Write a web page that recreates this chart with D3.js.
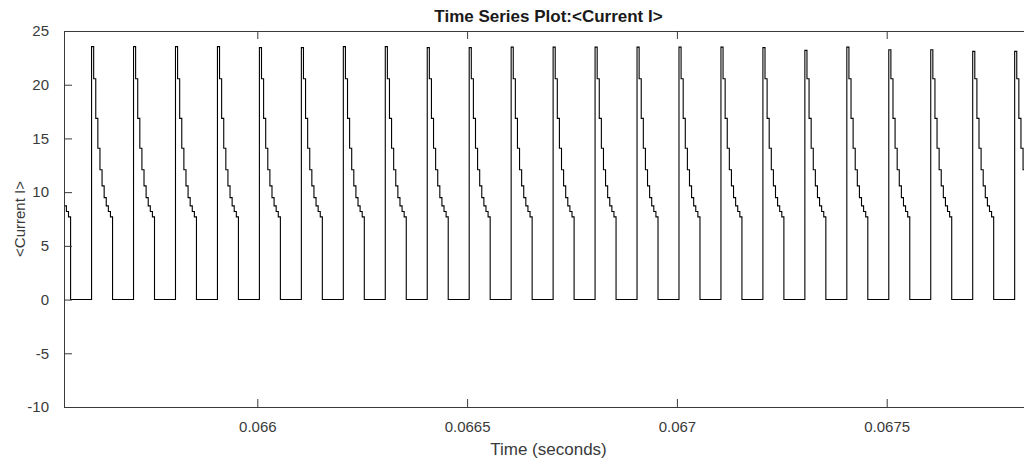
<!DOCTYPE html>
<html>
<head>
<meta charset="utf-8">
<script src="https://cdn.jsdelivr.net/npm/d3@7"></script>
<style>
  html, body { margin: 0; padding: 0; background: #fff; overflow: hidden; }
  svg { display: block; font-family: "Liberation Sans", Arial, Helvetica, sans-serif; }
</style>
</head>
<body>
<svg id="chart" width="1024" height="461"></svg>
<script>
// Pulse train: rise instants (s), the peak of each pulse, then the staircase it decays along
const riseTimes = [
  0.065505, 0.065605, 0.065705, 0.065805, 0.065905, 0.066005,
  0.066105, 0.066205, 0.066305, 0.066405, 0.066505, 0.066605,
  0.066705, 0.066805, 0.066905, 0.067005, 0.067105, 0.067205,
  0.067305, 0.067405, 0.067505, 0.067605, 0.067705, 0.067805
];
const peakLevels = [
  23.5, 23.55, 23.55, 23.55, 23.55, 23.45,
  23.45, 23.55, 23.55, 23.45, 23.45, 23.5,
  23.5, 23.5, 23.5, 23.5, 23.5, 23.45,
  23.2, 23.5, 23.25, 23.25, 23.1, 23.1
];
const stepLevels = [20.55, 16.87, 14.08, 12.08, 10.58, 9.49, 8.72, 8.2, 7.7];
const stepDuration = 5e-6;   // each level holds for 5 microseconds

const xTicks = [0.066, 0.0665, 0.067, 0.0675];
const xTickLabels = ["0.066", "0.0665", "0.067", "0.0675"];
const yTicks = [-10, -5, 0, 5, 10, 15, 20, 25];
const yTickLabels = ["-10", "-5", "0", "5", "10", "15", "20", "25"];
const timeDomain = [0.0655393, 0.0678487];
const currentDomain = [-10, 25];

const titleText = "Time Series Plot:<Current I>";
const xLabelText = "Time (seconds)";
const yLabelText = "<Current I>";

// Build the sample sequence (time, value); each value holds until the next sample
const samples = [];
riseTimes.forEach((t0, i) => {
  samples.push([t0, peakLevels[i]]);
  stepLevels.forEach((v, j) => samples.push([t0 + (j + 1) * stepDuration, v]));
  samples.push([t0 + (stepLevels.length + 1) * stepDuration, 0]);
});

const svg = d3.select("#chart");
const plotLeft = 64, plotRight = 1033, plotTop = 31, plotBottom = 407;
const axisColor = "#3a3a3a";
const textColor = "#3a3a3a";

const x = d3.scaleLinear().domain(timeDomain).range([plotLeft, plotRight]);
const y = d3.scaleLinear().domain(currentDomain).range([plotBottom, plotTop]);

svg.append("defs").append("clipPath").attr("id", "plotClip")
  .append("rect").attr("x", plotLeft).attr("y", plotTop)
  .attr("width", plotRight - plotLeft).attr("height", plotBottom - plotTop);

// Signal
const line = d3.line()
  .x(d => x(d[0]))
  .y(d => y(d[1]))
  .curve(d3.curveStepAfter);

svg.append("path")
  .datum(samples)
  .attr("clip-path", "url(#plotClip)")
  .attr("fill", "none")
  .attr("stroke", "#000")
  .attr("stroke-width", 1.1)
  .attr("d", line);

// Axes box with inward ticks
const tickLen = 8;
const xAxisBottom = d3.axisBottom(x).tickValues(xTicks)
  .tickFormat((d, i) => xTickLabels[i]).tickSizeInner(-tickLen).tickSizeOuter(0).tickPadding(16);
const xAxisTop = d3.axisTop(x).tickValues(xTicks)
  .tickFormat("").tickSizeInner(-tickLen).tickSizeOuter(0);
const yAxisLeft = d3.axisLeft(y).tickValues(yTicks)
  .tickFormat((d, i) => yTickLabels[i]).tickSizeInner(-tickLen).tickSizeOuter(0).tickPadding(15);

function styleAxis(g) {
  g.select(".domain").attr("stroke", axisColor).attr("stroke-width", 1);
  g.selectAll(".tick line").attr("stroke", axisColor).attr("stroke-width", 1);
  g.selectAll(".tick text").attr("fill", textColor)
    .style("font-size", "15px");
}

svg.append("g").attr("transform", `translate(0,${plotBottom})`).call(xAxisBottom).call(styleAxis)
  .selectAll(".tick text").attr("dy", "0.71em").attr("y", 14);
svg.append("g").attr("transform", `translate(0,${plotTop})`).call(xAxisTop).call(styleAxis);
svg.append("g").attr("transform", `translate(${plotLeft},0)`).call(yAxisLeft).call(styleAxis);

// Titles
svg.append("text")
  .attr("x", (plotLeft + plotRight) / 2).attr("y", 21.5)
  .attr("text-anchor", "middle")
  .attr("fill", "#1a1a1a")
  .style("font-size", "17px").style("font-weight", "bold")
  .text(titleText);

svg.append("text")
  .attr("x", (plotLeft + plotRight) / 2).attr("y", 455)
  .attr("text-anchor", "middle")
  .attr("fill", textColor)
  .style("font-size", "17px")
  .text(xLabelText);

svg.append("text")
  .attr("transform", `translate(25,${(plotTop + plotBottom) / 2}) rotate(-90)`)
  .attr("text-anchor", "middle")
  .attr("fill", textColor)
  .style("font-size", "15px")
  .text(yLabelText);
</script>
</body>
</html>
